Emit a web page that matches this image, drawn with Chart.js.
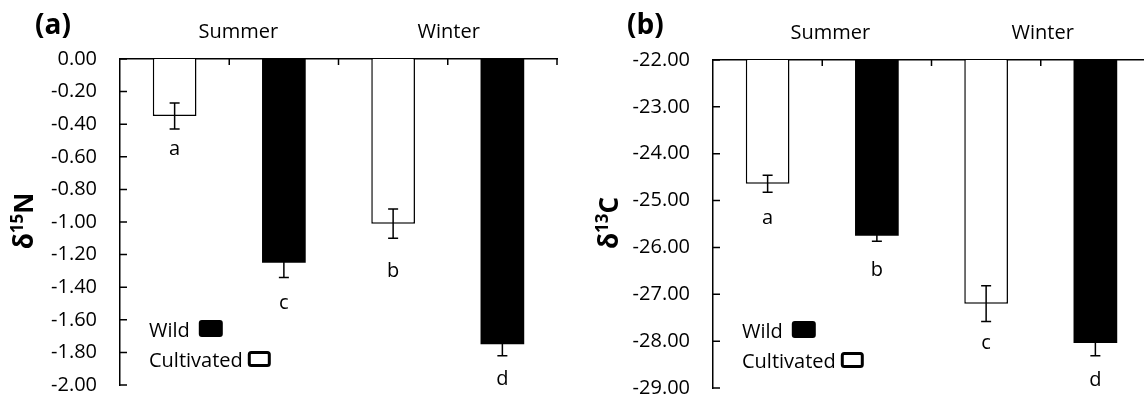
<!DOCTYPE html>
<html>
<head>
<meta charset="utf-8">
<script src="https://cdn.jsdelivr.net/npm/chart.js@4"></script>
<style>
  html, body { margin: 0; padding: 0; background: #fff; }
  body { width: 1144px; height: 397px; overflow: hidden; position: relative; }
  #pa { position: absolute; left: 0; top: 0; }
  #pb { position: absolute; left: 572px; top: 0; }
</style>
</head>
<body>
<canvas id="pa" width="572" height="397"></canvas>
<canvas id="pb" width="590" height="397"></canvas>
<script>
var seasons = ['Summer', 'Winter'];
var categories = ['Summer Cultivated', 'Summer Wild', 'Winter Cultivated', 'Winter Wild'];

// (a) delta 15N
var cultN = [-0.35, -1.01];
var cultNErr = [0.08, 0.09];
var cultNLetters = ['a', 'b'];
var wildN = [-1.25, -1.75];
var wildNErr = [0.09, 0.07];
var wildNLetters = ['c', 'd'];
var ticksN = [0, -0.2, -0.4, -0.6, -0.8, -1.0, -1.2, -1.4, -1.6, -1.8, -2.0];

// (b) delta 13C
var cultC = [-24.64, -27.20];
var cultCErr = [0.18, 0.38];
var cultCLetters = ['a', 'c'];
var wildC = [-25.75, -28.04];
var wildCErr = [0.12, 0.27];
var wildCLetters = ['b', 'd'];
var ticksC = [-22, -23, -24, -25, -26, -27, -28, -29];

var FONT = '"Open Sans", sans-serif';

// put a per-season list into the 4 category slots (0 = cultivated slot, 1 = wild slot)
function spread(vals, slot) {
  var out = [];
  vals.forEach(function (v) {
    out.push(slot === 0 ? v : null);
    out.push(slot === 1 ? v : null);
  });
  return out;
}

var decor = {
  id: 'decor',
  afterDatasetsDraw: function (chart, args, o) {
    var ctx = chart.ctx, a = chart.chartArea, xs = chart.scales.x, ys = chart.scales.y;
    var slot = xs.getPixelForValue(1) - xs.getPixelForValue(0);
    ctx.save();

    // error bars + letters
    chart.data.datasets.forEach(function (ds, di) {
      var meta = chart.getDatasetMeta(di);
      ds.data.forEach(function (v, i) {
        if (v === null) return;
        var cx = meta.data[i].x;
        var hi = ys.getPixelForValue(v + ds.err[i]);
        var lo = ys.getPixelForValue(v - ds.err[i]);
        ctx.strokeStyle = '#000';
        ctx.lineWidth = 1.5;
        ctx.beginPath();
        ctx.moveTo(cx, hi); ctx.lineTo(cx, lo);
        ctx.moveTo(cx - 5, hi); ctx.lineTo(cx + 5, hi);
        ctx.moveTo(cx - 5, lo); ctx.lineTo(cx + 5, lo);
        ctx.stroke();
        ctx.fillStyle = '#000';
        ctx.font = '20px ' + FONT;
        ctx.textAlign = 'center';
        ctx.textBaseline = 'alphabetic';
        ctx.fillText(ds.letters[i], cx, lo + o.letterDy[i]);
      });
    });

    // inward tick marks
    ctx.strokeStyle = '#000';
    ctx.lineWidth = 1.5;
    ctx.beginPath();
    ys.ticks.forEach(function (t) {
      var py = ys.getPixelForValue(t.value);
      ctx.moveTo(a.left, py); ctx.lineTo(a.left + 7, py);
    });
    for (var i = 0; i < categories.length; i++) {
      var bx = xs.getPixelForValue(i) + slot / 2;
      ctx.moveTo(bx, a.top); ctx.lineTo(bx, a.top + 6);
    }
    ctx.stroke();

    // season labels
    ctx.fillStyle = '#000';
    ctx.font = '20px ' + FONT;
    ctx.textAlign = 'center';
    ctx.textBaseline = 'alphabetic';
    seasons.forEach(function (s, si) {
      var c = (xs.getPixelForValue(2 * si) + xs.getPixelForValue(2 * si + 1)) / 2 + o.seasonDx[si];
      ctx.fillText(s, c, a.top - 21.5);
    });

    // legend: text then swatch
    ctx.textAlign = 'left';
    var lx = a.left + 29;
    chart.data.datasets.forEach(function (ds, di) {
      var base = a.top + 278 + di * 30;
      ctx.fillStyle = '#000';
      ctx.fillText(ds.label, lx, base);
      var bx = lx + ctx.measureText(ds.label).width + o.legendGap[di];
      if (ds.backgroundColor === '#000') {
        ctx.beginPath();
        ctx.roundRect(bx, base - 17, 24, 17, 3);
        ctx.fill();
      } else {
        ctx.lineWidth = 3;
        ctx.beginPath();
        ctx.roundRect(bx + 1.5, base - 14.5, 20, 13, 2);
        ctx.stroke();
      }
    });

    // panel tag
    ctx.font = 'bold 28px ' + FONT;
    ctx.textBaseline = 'middle';
    ctx.fillText(o.tag, o.tagX, 26);

    // rotated y title with superscript
    var big = 'bold 26px ' + FONT, small = 'bold 17px ' + FONT;
    ctx.translate(o.titleX, o.titleY);
    ctx.rotate(-Math.PI / 2);
    ctx.textBaseline = 'alphabetic';
    ctx.font = big; var w0 = ctx.measureText(o.title[0]).width, w2 = ctx.measureText(o.title[2]).width;
    ctx.font = small; var w1 = ctx.measureText(o.title[1]).width;
    var sx = -(w0 + w1 + w2) / 2;
    ctx.font = big; ctx.fillText(o.title[0], sx, 9);
    ctx.font = small; ctx.fillText(o.title[1], sx + w0, 9 - 10);
    ctx.font = big; ctx.fillText(o.title[2], sx + w0 + w1, 9);
    ctx.restore();
  }
};

function makeChart(id, cfg) {
  return new Chart(document.getElementById(id), {
    type: 'bar',
    data: {
      labels: categories,
      datasets: [
        { label: 'Wild', data: spread(cfg.wild, 1), err: spread(cfg.wildErr, 1), letters: spread(cfg.wildLetters, 1),
          backgroundColor: '#000', borderWidth: 0, skipNull: true },
        { label: 'Cultivated', data: spread(cfg.cult, 0), err: spread(cfg.cultErr, 0), letters: spread(cfg.cultLetters, 0),
          backgroundColor: '#fff', borderColor: '#000', borderWidth: 1.5, skipNull: true }
      ]
    },
    options: {
      responsive: false,
      animation: false,
      devicePixelRatio: 1,
      layout: { padding: cfg.pad },
      datasets: { bar: { categoryPercentage: 1, barPercentage: 0.4 } },
      plugins: {
        legend: { display: false },
        tooltip: { enabled: false },
        decor: cfg.decor
      },
      scales: {
        x: {
          position: 'top', z: 1,
          grid: { display: false, drawTicks: false },
          ticks: { display: false },
          border: { display: true, color: '#000', width: 1.5 }
        },
        y: {
          min: cfg.min, max: cfg.max,
          afterBuildTicks: function (s) { s.ticks = cfg.ticks.map(function (v) { return { value: v }; }); },
          afterFit: function (s) { s.width = cfg.left; s.paddingTop = 0; s.paddingBottom = 0; },
          grid: { display: false, drawTicks: false },
          border: { display: true, color: '#000', width: 1.5 },
          ticks: {
            color: '#000', padding: 23,
            font: { family: 'Open Sans', size: 20 },
            callback: function (v) { return (Math.abs(v) < 1e-9 ? 0 : v).toFixed(2); }
          }
        }
      }
    },
    plugins: [decor]
  });
}

makeChart('pa', {
  cult: cultN, cultErr: cultNErr, cultLetters: cultNLetters,
  wild: wildN, wildErr: wildNErr, wildLetters: wildNLetters,
  ticks: ticksN, min: -2, max: 0,
  left: 120, pad: { left: 0, right: 15, top: 59, bottom: 12 },
  decor: { tag: '(a)', tagX: 35, title: ['δ', '15', 'N'], titleX: 24, titleY: 221,
           letterDy: [26, 32, 39, 29], seasonDx: [9, 1], legendGap: [9, 5] }
});

makeChart('pb', {
  cult: cultC, cultErr: cultCErr, cultLetters: cultCLetters,
  wild: wildC, wildErr: wildCErr, wildLetters: wildCLetters,
  ticks: ticksC, min: -29, max: -22,
  left: 141, pad: { left: 0, right: 12, top: 60, bottom: 9 },
  decor: { tag: '(b)', tagX: 55, title: ['δ', '13', 'C'], titleX: 37, titleY: 223,
           letterDy: [32, 35, 28, 30], seasonDx: [8, 2], legendGap: [9, 5] }
});
</script>
</body>
</html>
